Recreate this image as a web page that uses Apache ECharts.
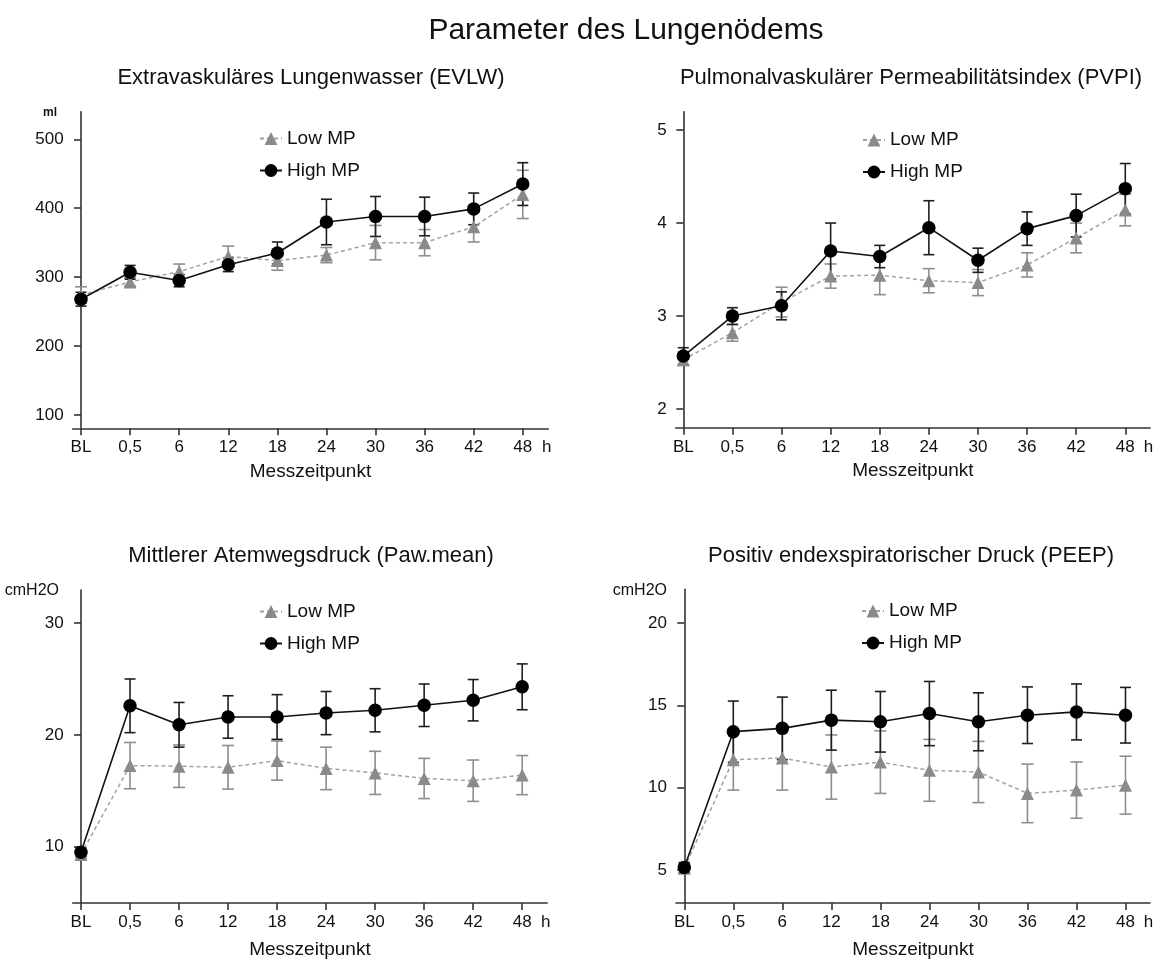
<!DOCTYPE html>
<html>
<head>
<meta charset="utf-8">
<script src="https://cdn.jsdelivr.net/npm/echarts@6/dist/echarts.min.js"></script>
<style>
html,body{margin:0;padding:0;background:#fff;}
#chart{width:1162px;height:960px;}
</style>
</head>
<body>
<div id="chart"></div>
<script>
// ---------------- data ----------------
const categories = ['BL', '0,5', '6', '12', '18', '24', '30', '36', '42', '48'];
const timeUnit = 'h';
const xAxisTitle = 'Messzeitpunkt';
const mainTitle = 'Parameter des Lungenödems';
const panelTitles = [
  'Extravaskuläres Lungenwasser (EVLW)',
  'Pulmonalvaskulärer Permeabilitätsindex (PVPI)',
  'Mittlerer Atemwegsdruck (Paw.mean)',
  'Positiv endexspiratorischer Druck (PEEP)'
];
const unitLabels = ['ml', '', 'cmH2O', 'cmH2O'];
const seriesNames = ['Low MP', 'High MP'];

// EVLW (ml)
const evlwTicks = [100, 200, 300, 400, 500];
const lowEVLW    = [274, 293, 308, 330, 324, 332, 350, 350, 373, 420];
const lowEVLWsd  = [12, 6, 11, 15, 14, 11, 25, 19, 22, 35];
const highEVLW   = [268, 307, 295, 318, 335, 380, 388, 388, 399, 435];
const highEVLWsd = [10, 10, 9, 10, 16, 33, 29, 28, 23, 31];

// PVPI
const pvpiTicks = [2, 3, 4, 5];
const lowPVPI    = [2.53, 2.82, 3.15, 3.43, 3.44, 3.38, 3.36, 3.55, 3.84, 4.14];
const lowPVPIsd  = [0.06, 0.09, 0.16, 0.13, 0.21, 0.13, 0.14, 0.13, 0.16, 0.17];
const highPVPI   = [2.57, 3.00, 3.11, 3.70, 3.64, 3.95, 3.60, 3.94, 4.08, 4.37];
const highPVPIsd = [0.09, 0.09, 0.15, 0.30, 0.12, 0.29, 0.13, 0.18, 0.23, 0.27];

// Paw.mean (cmH2O)
const pawTicks = [10, 20, 30];
const lowPaw    = [9.3, 17.25, 17.2, 17.1, 17.7, 17.0, 16.6, 16.1, 15.9, 16.4];
const lowPawSd  = [0.4, 2.07, 1.9, 1.95, 1.75, 1.9, 1.93, 1.8, 1.85, 1.75];
const highPaw   = [9.5, 22.6, 20.9, 21.6, 21.6, 21.95, 22.2, 22.65, 23.1, 24.3];
const highPawSd = [0.4, 2.4, 2.0, 1.9, 2.0, 1.93, 1.93, 1.9, 1.85, 2.05];

// PEEP (cmH2O)
const peepTicks = [5, 10, 15, 20];
const lowPEEP    = [5.1, 11.7, 11.8, 11.25, 11.55, 11.05, 10.95, 9.65, 9.85, 10.15];
const lowPEEPsd  = [0.3, 1.85, 1.95, 1.95, 1.9, 1.88, 1.86, 1.78, 1.71, 1.76];
const highPEEP   = [5.15, 13.4, 13.6, 14.1, 14.0, 14.5, 14.0, 14.4, 14.6, 14.4];
const highPEEPsd = [0.3, 1.86, 1.9, 1.82, 1.84, 1.95, 1.76, 1.72, 1.7, 1.69];

// ---------------- layout / style ----------------
const FONT = "'Liberation Sans', Arial, Helvetica, sans-serif";
const TXT = '#111';
const AXIS = '#333';
const LOW_MARK = '#8a8a8a', LOW_LINE = '#a2a2a2', LOW_BAR = '#8e8e8e';
const HIGH_MARK = '#000', HIGH_LINE = '#111', HIGH_BAR = '#1e1e1e';

const panels = [
  { low: lowEVLW, lowSd: lowEVLWsd, high: highEVLW, highSd: highEVLWsd, ticks: evlwTicks,
    grid: {left: 72.7, top: 111.7, width: 475.6, height: 316.6}, yMin: 80.7, yMax: 540, xMin: -0.169, xMax: 9.52,
    titleX: 311, titleY: 78, legendLeft: 259, legendTop: 129, nameGap: 34,
    unitX: 57, unitY: 113, unitSize: 12, unitBold: true },
  { low: lowPVPI, lowSd: lowPVPIsd, high: highPVPI, highSd: highPVPIsd, ticks: pvpiTicks,
    grid: {left: 675.7, top: 111.7, width: 474.3, height: 316}, yMin: 1.80, yMax: 5.197, xMin: -0.155, xMax: 9.503,
    titleX: 911, titleY: 78, legendLeft: 862, legendTop: 130.5, nameGap: 34,
    unitX: 0, unitY: 0, unitSize: 12, unitBold: false },
  { low: lowPaw, lowSd: lowPawSd, high: highPaw, highSd: highPawSd, ticks: pawTicks,
    grid: {left: 72.7, top: 590, width: 474.5, height: 315}, yMin: 4.96, yMax: 32.96, xMin: -0.169, xMax: 9.51,
    titleX: 311, titleY: 556, legendLeft: 259, legendTop: 602, nameGap: 37,
    unitX: 59, unitY: 591, unitSize: 16, unitBold: false },
  { low: lowPEEP, lowSd: lowPEEPsd, high: highPEEP, highSd: highPEEPsd, ticks: peepTicks,
    grid: {left: 676, top: 589.3, width: 474, height: 315.7}, yMin: 2.99, yMax: 22.05, xMin: -0.169, xMax: 9.50,
    titleX: 911, titleY: 556, legendLeft: 861, legendTop: 601.5, nameGap: 37,
    unitX: 667, unitY: 591, unitSize: 16, unitBold: false }
];

function errBar(capHalf, color) {
  return function (params, api) {
    const x = api.value(0), m = api.value(1), s = api.value(2);
    const t = api.coord([x, m + s]);
    const b = api.coord([x, m - s]);
    const st = {stroke: color, lineWidth: 1.6};
    return {
      type: 'group',
      children: [
        {type: 'line', shape: {x1: t[0], y1: t[1], x2: b[0], y2: b[1]}, style: st},
        {type: 'line', shape: {x1: t[0] - capHalf, y1: t[1], x2: t[0] + capHalf, y2: t[1]}, style: st},
        {type: 'line', shape: {x1: b[0] - capHalf, y1: b[1], x2: b[0] + capHalf, y2: b[1]}, style: st}
      ]
    };
  };
}

const catIdx = categories.map((c, i) => i);

const titles = [
  { text: mainTitle, left: 626, top: 31, textAlign: 'center', textVerticalAlign: 'middle', padding: 0,
    textStyle: {fontFamily: FONT, fontSize: 30, fontWeight: 'normal', color: TXT} }
];
panels.forEach((p, i) => {
  titles.push({
    text: panelTitles[i], left: p.titleX, top: p.titleY, textAlign: 'center', textVerticalAlign: 'middle', padding: 0,
    textStyle: {fontFamily: FONT, fontSize: 22, fontWeight: 'normal', color: TXT}
  });
  if (unitLabels[i]) {
    titles.push({
      text: unitLabels[i], left: p.unitX, top: p.unitY, textAlign: 'right', textVerticalAlign: 'middle', padding: 0,
      textStyle: {fontFamily: FONT, fontSize: p.unitSize, fontWeight: p.unitBold ? 'bold' : 'normal', color: TXT}
    });
  }
});

const option = {
  animation: false,
  backgroundColor: '#fff',
  textStyle: {fontFamily: FONT, color: TXT},
  title: titles,
  legend: panels.map((p, i) => ({
    data: seriesNames,
    orient: 'vertical',
    left: p.legendLeft,
    top: p.legendTop,
    padding: 0,
    itemGap: 13,
    itemWidth: 22,
    itemHeight: 16,
    selectedMode: false,
    textStyle: {fontFamily: FONT, fontSize: 19, color: TXT}
  })),
  grid: panels.map(p => Object.assign({containLabel: false}, p.grid)),
  xAxis: panels.map((p, i) => ({
    type: 'value',
    gridIndex: i,
    min: p.xMin,
    max: p.xMax,
    name: xAxisTitle,
    nameLocation: 'middle',
    nameGap: p.nameGap,
    nameTextStyle: {fontFamily: FONT, fontSize: 19, color: TXT},
    splitLine: {show: false},
    axisLine: {show: true, lineStyle: {color: AXIS, width: 1.6}},
    axisTick: {show: true, length: 7, lineStyle: {color: AXIS, width: 1.6}, customValues: catIdx},
    axisLabel: {
      show: true, margin: 11, fontFamily: FONT, fontSize: 17, color: TXT,
      customValues: catIdx.concat([p.xMax - 0.03]),
      formatter: function (v) { return v > 9.2 ? timeUnit : categories[Math.round(v)]; }
    }
  })),
  yAxis: panels.map((p, i) => ({
    type: 'value',
    gridIndex: i,
    min: p.yMin,
    max: p.yMax,
    splitLine: {show: false},
    axisLine: {show: true, lineStyle: {color: AXIS, width: 1.6}},
    axisTick: {show: true, length: 7, lineStyle: {color: AXIS, width: 1.6}, customValues: p.ticks},
    axisLabel: {show: true, margin: 9, fontFamily: FONT, fontSize: 17, color: TXT, customValues: p.ticks}
  })),
  series: []
};

panels.forEach((p, i) => {
  option.series.push({
    type: 'custom', name: 'Low MP SD', xAxisIndex: i, yAxisIndex: i, silent: true,
    renderItem: errBar(6, LOW_BAR), encode: {x: 0, y: 1},
    data: p.low.map((v, k) => [catIdx[k], v, p.lowSd[k]])
  });
  option.series.push({
    type: 'line', name: seriesNames[0], xAxisIndex: i, yAxisIndex: i, silent: true,
    data: p.low.map((v, k) => [catIdx[k], v]),
    symbol: 'triangle', symbolSize: 13, showAllSymbol: true,
    lineStyle: {color: LOW_LINE, width: 1.5, type: [4, 3]},
    itemStyle: {color: LOW_MARK, borderWidth: 0}
  });
  option.series.push({
    type: 'custom', name: 'High MP SD', xAxisIndex: i, yAxisIndex: i, silent: true,
    renderItem: errBar(5.5, HIGH_BAR), encode: {x: 0, y: 1},
    data: p.high.map((v, k) => [catIdx[k], v, p.highSd[k]])
  });
  option.series.push({
    type: 'line', name: seriesNames[1], xAxisIndex: i, yAxisIndex: i, silent: true,
    data: p.high.map((v, k) => [catIdx[k], v]),
    symbol: 'circle', symbolSize: 13.5, showAllSymbol: true,
    lineStyle: {color: HIGH_LINE, width: 1.6},
    itemStyle: {color: HIGH_MARK, borderWidth: 0}
  });
});

const chart = echarts.init(document.getElementById('chart'), null, {renderer: 'canvas'});
chart.setOption(option);
</script>
</body>
</html>
